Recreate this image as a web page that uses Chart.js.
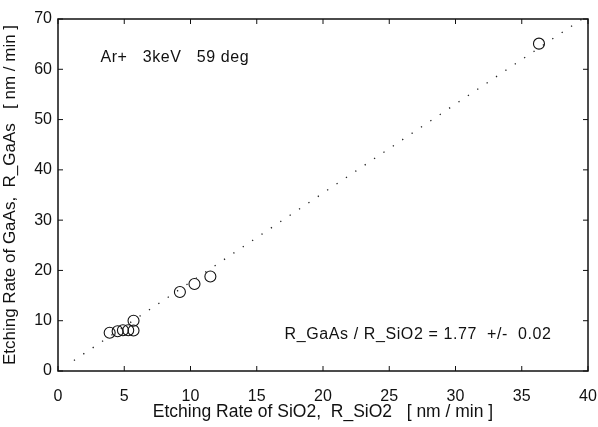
<!DOCTYPE html>
<html>
<head>
<meta charset="utf-8">
<script src="https://cdn.jsdelivr.net/npm/chart.js@4/dist/chart.umd.min.js"></script>
<style>
  html, body { margin: 0; padding: 0; background: #fff; }
  #wrap { width: 598px; height: 427px; }
</style>
</head>
<body>
<div id="wrap"><canvas id="rate-chart" width="598" height="427"></canvas></div>
<script>
// measured points, etching rates in nm/min
var sio2Rate = [3.9, 4.5, 4.9, 5.3, 5.7, 5.7, 9.2, 10.3, 11.5, 36.3]
var gaasRate = [7.6, 7.9, 8.1, 8.1, 8.05, 10.0, 15.7, 17.3, 18.8, 65.1]

// fitted line R_GaAs = 1.77 * R_SiO2
var fitX = [1.2, 39.5]
var fitY = [2.1, 69.9]

var xTicks = [0, 5, 10, 15, 20, 25, 30, 35, 40]
var yTicks = [0, 10, 20, 30, 40, 50, 60, 70]

var fontFam = '"Liberation Sans", Arial, Helvetica, sans-serif'

var framePlugin = {
    id: 'frame',
    afterDraw: function(chart) {
        var c = chart.ctx, a = chart.chartArea
        var xs = chart.scales.x, ys = chart.scales.y
        c.save()
        c.strokeStyle = '#111'
        c.lineWidth = 1.5
        c.strokeRect(a.left, a.top, a.right - a.left, a.bottom - a.top)
        c.lineWidth = 1
        c.beginPath()
        xTicks.forEach(function(v) {
            var px = xs.getPixelForValue(v)
            c.moveTo(px, a.bottom); c.lineTo(px, a.bottom - 5)
            c.moveTo(px, a.top); c.lineTo(px, a.top + 5)
        })
        yTicks.forEach(function(v) {
            var py = ys.getPixelForValue(v)
            c.moveTo(a.left, py); c.lineTo(a.left + 5, py)
            c.moveTo(a.right, py); c.lineTo(a.right - 5, py)
        })
        c.stroke()

        c.fillStyle = '#111'
        c.font = '16px ' + fontFam
        c.letterSpacing = '0.6px'
        c.textBaseline = 'middle'
        c.textAlign = 'left'
        c.fillText('Ar+   3keV   59 deg', xs.getPixelForValue(3.2), ys.getPixelForValue(62.3))
        c.fillText('R_GaAs / R_SiO2 = 1.77  +/-  0.02', xs.getPixelForValue(17.1), ys.getPixelForValue(7.3))
        c.restore()
    }
}

var ctx = document.getElementById('rate-chart').getContext('2d')

new Chart(ctx, {
    type: 'scatter',
    data: {
        datasets: [{
            label: 'fit',
            data: fitX.map(function(x, i) { return {x: x, y: fitY[i]} }),
            showLine: true,
            borderColor: '#222',
            borderWidth: 1.3,
            borderDash: [1.3, 10],
            pointRadius: 0
        }, {
            label: 'measured',
            data: sio2Rate.map(function(x, i) { return {x: x, y: gaasRate[i]} }),
            pointRadius: 5.5,
            pointBorderWidth: 1.1,
            pointBorderColor: '#111',
            pointBackgroundColor: 'rgba(255,255,255,0)'
        }]
    },
    options: {
        responsive: false,
        animation: false,
        layout: { padding: { top: 19, right: 10, left: 0, bottom: 4 } },
        plugins: {
            legend: { display: false },
            tooltip: { enabled: false }
        },
        scales: {
            x: {
                type: 'linear',
                min: 0, max: 40,
                afterBuildTicks: function(s) { s.ticks = xTicks.map(function(v) { return {value: v} }) },
                afterFit: function(s) { s.height = 52; s.paddingRight = 0; s.paddingLeft = 0 },
                grid: { display: false, drawTicks: false },
                border: { display: false },
                ticks: { color: '#111', padding: 16, font: { family: fontFam, size: 16 }, maxRotation: 0 },
                title: {
                    display: true,
                    text: 'Etching Rate of SiO2,  R_SiO2   [ nm / min ]',
                    color: '#111',
                    font: { family: fontFam, size: 17.5 },
                    padding: { top: 0, bottom: 0 }
                }
            },
            y: {
                type: 'linear',
                min: 0, max: 70,
                afterBuildTicks: function(s) { s.ticks = yTicks.map(function(v) { return {value: v} }) },
                afterFit: function(s) { s.width = 58; s.paddingTop = 0; s.paddingBottom = 0 },
                grid: { display: false, drawTicks: false },
                border: { display: false },
                ticks: { color: '#111', padding: 6, font: { family: fontFam, size: 16 } },
                title: {
                    display: true,
                    text: 'Etching Rate of GaAs,  R_GaAs   [ nm / min ]',
                    color: '#111',
                    font: { family: fontFam, size: 17 },
                    padding: { top: 0, bottom: 0 }
                }
            }
        }
    },
    plugins: [framePlugin]
})
</script>
</body>
</html>
